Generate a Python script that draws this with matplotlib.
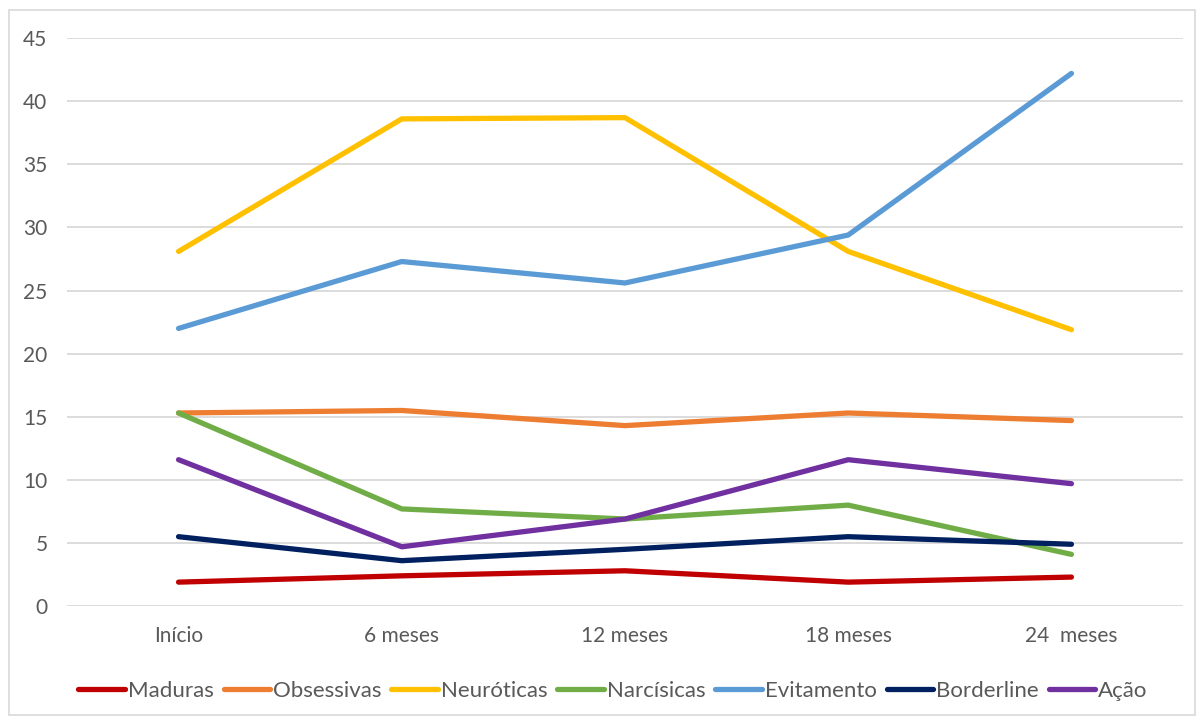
import matplotlib.pyplot as plt
from matplotlib.patches import Rectangle

plt.rcParams['font.family'] = ['Lato', 'DejaVu Sans']

# categorias (eixo x)
periodos = ["Início", "6 meses", "12 meses", "18 meses", "24  meses"]

# valores de cada série
maduras = [1.9, 2.4, 2.8, 1.9, 2.3]
obsessivas = [15.3, 15.5, 14.3, 15.3, 14.7]
neuroticas = [28.1, 38.6, 38.7, 28.1, 21.9]
narcisicas = [15.3, 7.7, 6.9, 8.0, 4.1]
evitamento = [22.0, 27.3, 25.6, 29.4, 42.2]
borderline = [5.5, 3.6, 4.5, 5.5, 4.9]
acao = [11.6, 4.7, 6.9, 11.6, 9.7]

series = [
    ("Maduras", maduras, "#C00000"),
    ("Obsessivas", obsessivas, "#ED7D31"),
    ("Neuróticas", neuroticas, "#FFC000"),
    ("Narcísicas", narcisicas, "#70AD47"),
    ("Evitamento", evitamento, "#5B9BD5"),
    ("Borderline", borderline, "#002060"),
    ("Ação", acao, "#7030A0"),
]

fig = plt.figure(figsize=(12.04, 7.19), dpi=100)
ax = fig.add_axes([0.0556, 0.157, 0.927, 0.790])

x = range(len(periodos))
for nome, vals, cor in series:
    ax.plot(x, vals, color=cor, lw=3.8, label=nome,
            solid_capstyle='round', solid_joinstyle='round')

ax.set_xlim(-0.5, len(periodos) - 0.5)
ax.set_ylim(0, 45)
ax.set_yticks(range(0, 46, 5))
ax.set_xticks(list(x))
ax.set_xticklabels(periodos)
ax.grid(axis='y', color='#D9D9D9', lw=1.3)
ax.set_axisbelow(True)
for s in ax.spines.values():
    s.set_visible(False)
ax.tick_params(length=0, labelsize=15, labelcolor='#595959')
ax.tick_params(axis='x', pad=14)
ax.tick_params(axis='y', pad=14)

fig.legend(loc='center', bbox_to_anchor=(0.509, 0.039), ncol=7, frameon=False,
           fontsize=16, handlelength=2.1, columnspacing=0.45, handletextpad=0.12,
           labelcolor='#595959')

fig.patches.append(Rectangle((9 / 1204, 4 / 719), 1186 / 1204, 705 / 719,
                             transform=fig.transFigure, fill=False,
                             edgecolor='#D9D9D9', lw=1.2))

fig.savefig("out.png", dpi=100)
